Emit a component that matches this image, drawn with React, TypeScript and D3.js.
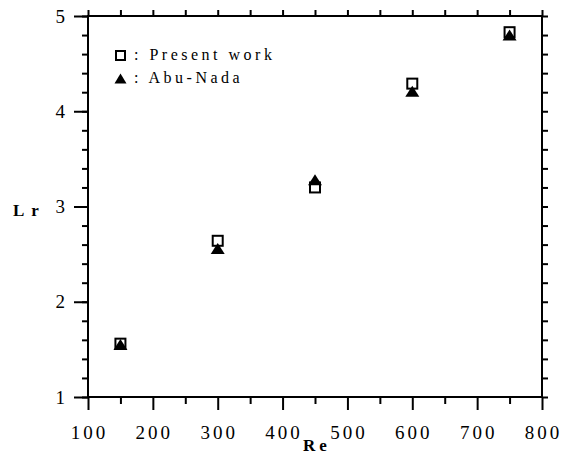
import React, { useEffect, useRef } from "react";
import * as d3 from "d3";

// Re values and Lr values
const reValues = [150, 300, 450, 600, 750];
const presentWork = [1.56, 2.64, 3.2, 4.29, 4.83];
const abuNada = [1.55, 2.56, 3.28, 4.21, 4.8];

const xMajorTicks = [100, 200, 300, 400, 500, 600, 700, 800];
const xMinorTicks = [150, 250, 350, 450, 550, 650, 750];
const yMajorTicks = [1, 2, 3, 4, 5];

const W = 563;
const H = 455;
const left = 88;
const right = 542;
const top = 16;
const bottom = 397;

const FONT = "Liberation Serif, serif";

const App = () => {
  const ref = useRef<SVGSVGElement>(null);

  useEffect(() => {
    const svg = d3.select(ref.current);
    svg.selectAll("*").remove();

    const x = d3.scaleLinear().domain([100, 800]).range([left, right]);
    const y = d3.scaleLinear().domain([1, 5]).range([bottom, top]);

    const yMinor = d3.range(0, 21).map((i) => 1 + i * 0.2);
    const xAll = d3.range(0, 15).map((i) => 100 + i * 50);

    const styleAxis = (g) => {
      g.attr("font-family", null).attr("font-size", null);
      g.select(".domain").remove();
      g.selectAll(".tick line").attr("stroke", "#000").attr("stroke-width", 2);
    };

    // left axis: minor and major ticks
    svg
      .append("g")
      .attr("transform", `translate(${left},0)`)
      .call(d3.axisLeft(y).tickValues(yMinor).tickSize(6).tickFormat(() => ""))
      .call(styleAxis);
    svg
      .append("g")
      .attr("transform", `translate(${left},0)`)
      .call(d3.axisLeft(y).tickValues(yMajorTicks).tickSize(14).tickPadding(9).tickFormat(d3.format("d")))
      .call(styleAxis)
      .selectAll("text")
      .style("font-family", FONT)
      .style("font-size", "19px")
      .attr("fill", "#000");

    // right axis
    svg
      .append("g")
      .attr("transform", `translate(${right},0)`)
      .call(d3.axisRight(y).tickValues(yMinor).tickSize(6).tickFormat(() => ""))
      .call(styleAxis);

    // top axis
    svg
      .append("g")
      .attr("transform", `translate(0,${top})`)
      .call(d3.axisTop(x).tickValues(xAll).tickSize(6).tickFormat(() => ""))
      .call(styleAxis);

    // bottom axis
    svg
      .append("g")
      .attr("transform", `translate(0,${bottom})`)
      .call(d3.axisBottom(x).tickValues(xMinorTicks).tickSize(7).tickFormat(() => ""))
      .call(styleAxis);
    svg
      .append("g")
      .attr("transform", `translate(0,${bottom})`)
      .call(d3.axisBottom(x).tickValues(xMajorTicks).tickSize(13).tickPadding(16).tickFormat(d3.format("d")))
      .call(styleAxis)
      .selectAll("text")
      .style("font-family", FONT)
      .style("font-size", "19px")
      .style("letter-spacing", "3px")
      .attr("dx", 1)
      .attr("fill", "#000");

    // frame
    svg
      .append("rect")
      .attr("x", left)
      .attr("y", top)
      .attr("width", right - left)
      .attr("height", bottom - top)
      .attr("fill", "none")
      .attr("stroke", "#000")
      .attr("stroke-width", 2);

    // axis titles
    svg
      .append("text")
      .attr("x", (left + right) / 2 + 2)
      .attr("y", 451)
      .attr("text-anchor", "middle")
      .style("font-family", FONT)
      .style("font-weight", "bold")
      .style("font-size", "17px")
      .style("letter-spacing", "4px")
      .text("Re");
    svg
      .append("text")
      .attr("x", 13)
      .attr("y", 216)
      .style("font-family", FONT)
      .style("font-weight", "bold")
      .style("font-size", "17px")
      .style("letter-spacing", "7px")
      .text("Lr");

    const tri = (cx, cy, w, h) =>
      `M${cx},${cy - h / 2}L${cx + w / 2},${cy + h / 2}L${cx - w / 2},${cy + h / 2}Z`;

    // present work: open squares
    svg
      .append("g")
      .selectAll("rect")
      .data(reValues)
      .join("rect")
      .attr("x", (d) => x(d) - 5)
      .attr("y", (d, i) => y(presentWork[i]) - 5)
      .attr("width", 10)
      .attr("height", 10)
      .attr("fill", "none")
      .attr("stroke", "#000")
      .attr("stroke-width", 2);

    // Abu-Nada: filled triangles
    svg
      .append("g")
      .selectAll("path")
      .data(reValues)
      .join("path")
      .attr("d", (d, i) => tri(x(d), y(abuNada[i]), 14, 11))
      .attr("fill", "#000");

    // legend
    const legend = svg.append("g");
    legend
      .append("rect")
      .attr("x", 116)
      .attr("y", 51)
      .attr("width", 9)
      .attr("height", 9)
      .attr("fill", "none")
      .attr("stroke", "#000")
      .attr("stroke-width", 2);
    legend.append("path").attr("d", tri(120.5, 78.5, 12, 10)).attr("fill", "#000");
    legend
      .selectAll("text")
      .data([": Present work", ": Abu-Nada"])
      .join("text")
      .attr("x", 134)
      .attr("y", (d, i) => 60 + i * 23)
      .style("font-family", FONT)
      .style("font-size", "16px")
      .style("letter-spacing", "3.5px")
      .text((d) => d);
  }, []);

  return (
    <svg
      ref={ref}
      width={W}
      height={H}
      style={{ position: "absolute", left: 0, top: 0, background: "#fff", fontFamily: FONT }}
    ></svg>
  );
};

export default App;
